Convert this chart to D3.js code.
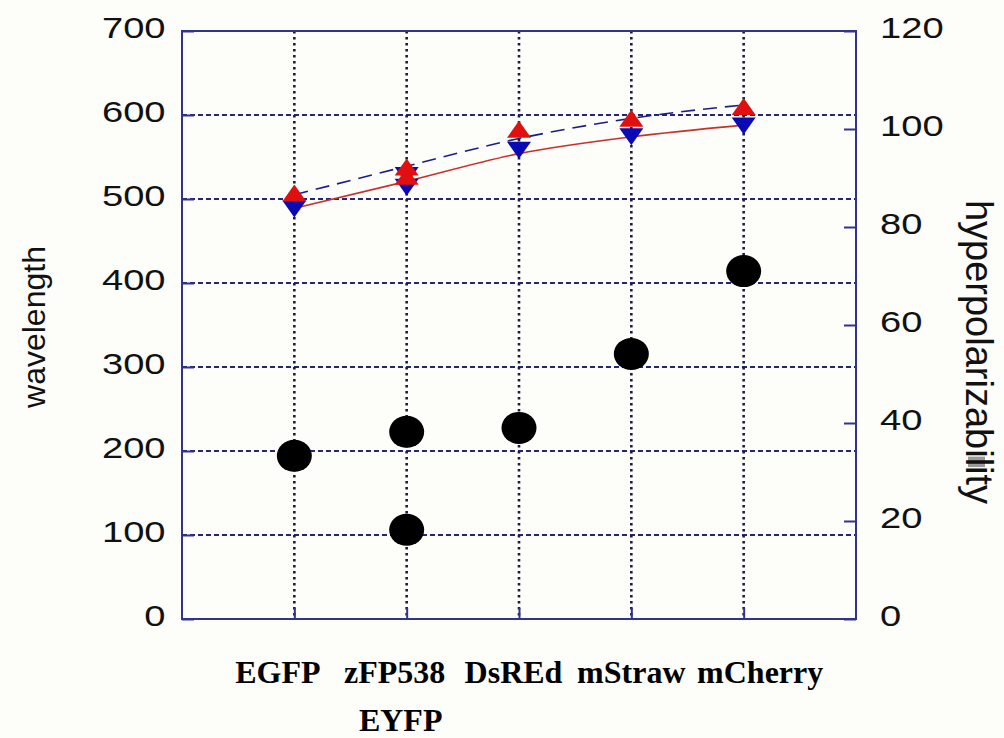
<!DOCTYPE html>
<html>
<head>
<meta charset="utf-8">
<script src="https://cdn.jsdelivr.net/npm/d3@7"></script>
<style>
  html, body { margin: 0; padding: 0; background: #fdfdfa; }
  svg { display: block; }
</style>
</head>
<body>
<svg id="chart" width="1004" height="738"></svg>
<script>
// Fluorescent proteins: columns on the x axis
const categories = ["EGFP", "zFP538", "DsREd", "mStraw", "mCherry"];

// Individual proteins and the column each one is plotted in
const proteins = ["EGFP", "EYFP", "zFP538", "DsREd", "mStraw", "mCherry"];
const proteinColumn = ["EGFP", "zFP538", "zFP538", "DsREd", "mStraw", "mCherry"];

// Wavelengths (nm): excitation (blue, down) and emission (red, up)
const excitation = [488, 514, 528, 558, 574, 587];
const emission = [507, 527, 538, 583, 596, 610];

// Hyperpolarizability (right axis, black dots)
const hyperpolarizability = [33.3, 18.2, 38.2, 39.0, 54.1, 71.0];

// Smoothed trends per column
const excitationTrend = [489, 521, 554, 574, 588];
const emissionTrend = [505, 539, 572, 596, 612];

// Axis ticks
const wavelengthTicks = [0, 100, 200, 300, 400, 500, 600, 700];
const hyperTicks = [0, 20, 40, 60, 80, 100, 120];
const gridTicks = [100, 200, 300, 400, 500, 600];

const svg = d3.select("#chart");
const plot = { left: 182, right: 856, top: 31, bottom: 619 };
const frameColor = "#33338f";
const sansFont = "'Liberation Sans', Arial, sans-serif";
const tickStretch = 1.27;

const x = d3.scalePoint().domain(categories).range([plot.left, plot.right]).padding(1);
const yL = d3.scaleLinear().domain([0, 700]).range([plot.bottom, plot.top]);
const yR = d3.scaleLinear().domain([0, 120]).range([plot.bottom, plot.top]);

// Grid
const grid = svg.append("g");
grid.selectAll("line.h").data(gridTicks).join("line")
  .attr("x1", plot.left).attr("x2", plot.right)
  .attr("y1", d => yL(d)).attr("y2", d => yL(d))
  .attr("stroke", "#24247e").attr("stroke-width", 2)
  .attr("stroke-dasharray", "5,3");
grid.selectAll("line.v").data(categories).join("line")
  .attr("x1", d => x(d)).attr("x2", d => x(d))
  .attr("y1", plot.top).attr("y2", plot.bottom)
  .attr("stroke", "#1c1c3c").attr("stroke-width", 2.6)
  .attr("stroke-dasharray", "2.5,3.5");

// Axes with inward ticks
const leftAxis = svg.append("g").attr("transform", `translate(${plot.left},0)`)
  .call(d3.axisLeft(yL).tickValues(wavelengthTicks).tickSizeInner(-12).tickSizeOuter(0).tickPadding(13));
const rightAxis = svg.append("g").attr("transform", `translate(${plot.right},0)`)
  .call(d3.axisRight(yR).tickValues(hyperTicks).tickSizeInner(-12).tickSizeOuter(0).tickPadding(19));
const bottomAxis = svg.append("g").attr("transform", `translate(0,${plot.bottom})`)
  .call(d3.axisBottom(x).tickSizeInner(-11).tickSizeOuter(0).tickFormat(""));

[leftAxis, rightAxis, bottomAxis].forEach(a => {
  a.select(".domain").remove();
  a.selectAll(".tick line").attr("stroke", frameColor).attr("stroke-width", 2);
  a.selectAll(".tick text")
    .attr("font-family", sansFont).attr("font-size", 30).attr("fill", "#111")
    .attr("y", -3)
    .attr("transform", `scale(${tickStretch},1)`);
});

// Frame
svg.append("rect")
  .attr("x", plot.left).attr("y", plot.top)
  .attr("width", plot.right - plot.left).attr("height", plot.bottom - plot.top)
  .attr("fill", "none").attr("stroke", frameColor).attr("stroke-width", 2);

// Trend curves
const trendLine = scale => d3.line()
  .x((d, i) => x(categories[i]))
  .y(d => scale(d))
  .curve(d3.curveMonotoneX);
svg.append("path").datum(excitationTrend)
  .attr("d", trendLine(yL)).attr("fill", "none")
  .attr("stroke", "#c8302a").attr("stroke-width", 1.6);
svg.append("path").datum(emissionTrend)
  .attr("d", trendLine(yL)).attr("fill", "none")
  .attr("stroke", "#1c1c8c").attr("stroke-width", 1.6)
  .attr("stroke-dasharray", "14,8");

// Triangle markers
const triW = 24, triH = 17;
const rows = proteins.map((p, i) => ({ name: p, col: proteinColumn[i], ex: excitation[i], em: emission[i], hp: hyperpolarizability[i] }));

svg.append("g").selectAll("path").data(rows).join("path")
  .attr("d", d => {
    const cx = x(d.col), cy = yL(d.ex);
    return `M${cx - triW / 2},${cy - triH / 2}L${cx + triW / 2},${cy - triH / 2}L${cx},${cy + triH / 2}Z`;
  })
  .attr("fill", "#0a0ab4");
svg.append("g").selectAll("path").data(rows).join("path")
  .attr("d", d => {
    const cx = x(d.col), cy = yL(d.em);
    return `M${cx - triW / 2},${cy + triH / 2}L${cx + triW / 2},${cy + triH / 2}L${cx},${cy - triH / 2}Z`;
  })
  .attr("fill", "#e01010");

// Hyperpolarizability dots
svg.append("g").selectAll("ellipse").data(rows).join("ellipse")
  .attr("cx", d => x(d.col)).attr("cy", d => yR(d.hp))
  .attr("rx", 17.5).attr("ry", 16)
  .attr("fill", "#000");

// Axis titles
svg.append("text")
  .attr("transform", `translate(45,327) rotate(-90)`)
  .attr("text-anchor", "middle")
  .attr("font-family", sansFont).attr("font-size", 32).attr("fill", "#111")
  .text("wavelength");

const rightTitle = svg.append("g").attr("transform", `translate(966,352) rotate(90)`);
const rightTitleText = rightTitle.append("text")
  .attr("text-anchor", "middle")
  .attr("font-family", sansFont).attr("font-size", 38).attr("fill", "#111")
  .text("hyperpolarizability");
// grey highlight over the "l" in "...bility"
const lPos = rightTitleText.node().getStartPositionOfChar(15);
const lEnd = rightTitleText.node().getEndPositionOfChar(15);
rightTitle.insert("rect", "text")
  .attr("x", lPos.x - 1).attr("y", -19)
  .attr("width", Math.max(lEnd.x - lPos.x + 2, 9)).attr("height", 17)
  .attr("fill", "#9a9a9a");

// Category labels, set as a run of bold text under the ticks
const serif = "'Liberation Serif', 'Times New Roman', serif";
const labelShift = [-16.5, -12, -5.5, 0, 16.5];
svg.append("g").selectAll("text").data(categories).join("text")
  .attr("x", (d, i) => x(d) + labelShift[i]).attr("y", 683)
  .attr("text-anchor", "middle")
  .attr("font-family", serif).attr("font-weight", "bold").attr("font-size", 32)
  .text(d => d);
svg.append("text")
  .attr("x", x("zFP538") - 6).attr("y", 731)
  .attr("text-anchor", "middle")
  .attr("font-family", serif).attr("font-weight", "bold").attr("font-size", 32)
  .text("EYFP");
</script>
</body>
</html>
